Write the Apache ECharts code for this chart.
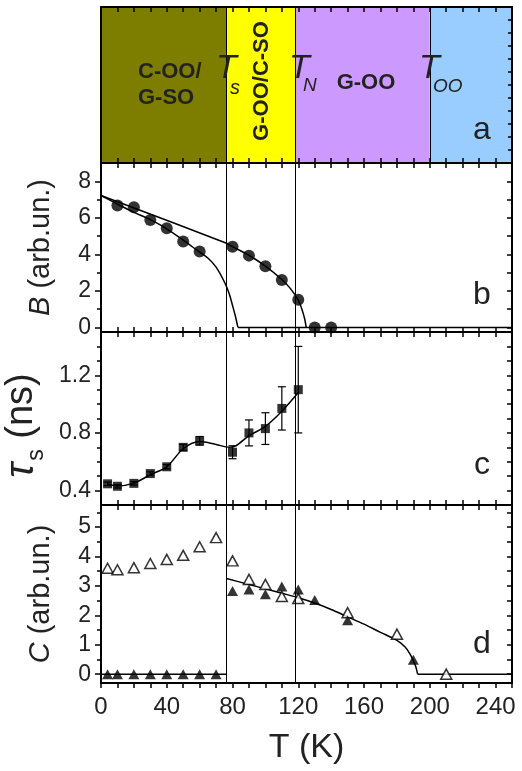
<!DOCTYPE html>
<html>
<head>
<meta charset="utf-8">
<script src="https://cdn.jsdelivr.net/npm/echarts@6/dist/echarts.min.js"></script>
<style>
html, body { margin: 0; padding: 0; background: #fff; }
#chart { width: 522px; height: 771px; }
</style>
</head>
<body>
<div id="chart"></div>
<script>
// transition temperatures (K)
const Ts = 76.3, TN = 118.4, TOO = 200;
const phaseBounds = [0, Ts, TN, TOO, 250];
const phaseColors = ['#7d7d00', '#ffff00', '#cc99ff', '#99ccff'];

// panel b: B (arb.un.)
const tB = [10, 20, 30, 40, 50, 60, 80, 90, 100, 110, 120, 130, 140];
const valB = [6.67, 6.58, 5.88, 5.43, 4.70, 4.15, 4.42, 3.93, 3.35, 2.60, 1.52, 0, 0];
const fitB1T = [0, 76, 80, 90, 100, 110, 115, 120, 122, 123.8, 124.8];
const fitB1 = [7.22, 4.62, 4.42, 3.95, 3.35, 2.62, 2.15, 1.5, 1.05, 0.5, 0];
const fitB2T = [0, 10, 20, 30, 40, 50, 60, 65, 70, 75, 78, 80, 81.8, 82.8, 83.3];
const fitB2 = [7.22, 6.75, 6.3, 5.9, 5.4, 4.78, 4.12, 3.8, 3.3, 2.5, 1.85, 1.2, 0.6, 0.2, 0];
const zeroBT = [83.3, 250];
const zeroB = [0, 0];

// panel c: tau_s (ns)
const tTau = [4, 10, 20, 30, 40, 50, 60, 80, 90, 100, 110, 120];
const tau = [0.447, 0.43, 0.45, 0.518, 0.565, 0.70, 0.745, 0.666, 0.80, 0.83, 0.97, 1.10];
const tauErr = [0.012, 0.012, 0.012, 0.012, 0.015, 0.02, 0.03, 0.045, 0.09, 0.11, 0.15, 0.30];
const fitCT = [4, 10, 20, 30, 40, 50, 60, 70, 78, 82, 90, 100, 110, 120];
const fitC = [0.445, 0.432, 0.452, 0.51, 0.565, 0.69, 0.74, 0.72, 0.70, 0.71, 0.78, 0.845, 0.95, 1.08];

// panel d: C (arb.un.)
const tCo = [4, 10, 20, 30, 40, 50, 60, 70, 80, 90, 100, 110, 120, 150, 180, 210];
const cOpen = [3.6, 3.55, 3.62, 3.76, 3.90, 4.04, 4.33, 4.64, 3.85, 3.22, 3.05, 2.64, 2.57, 2.09, 1.36, 0];
const tCf = [4, 10, 20, 30, 40, 50, 60, 70, 80, 90, 100, 110, 120, 130, 150, 190];
const cFilled = [0, 0, 0, 0, 0, 0, 0, 0, 2.83, 2.88, 2.72, 2.98, 2.88, 2.52, 1.83, 0.49];
const fitD0T = [0, Ts];
const fitD0 = [0, 0];
const fitDT = [Ts, 90, 100, 110, 120, 130, 140, 150, 160, 170, 180, 185, 188, 190, 191.5, 192.6];
const fitD = [3.25, 3.05, 2.9, 2.75, 2.6, 2.42, 2.2, 1.95, 1.7, 1.42, 1.15, 0.92, 0.68, 0.45, 0.25, 0];
const zeroDT = [192.6, 250];
const zeroD = [0, 0];

// y ticks
const ticksB = [0, 2, 4, 6, 8], minorB = [1, 3, 5, 7];
const ticksC = [0.4, 0.8, 1.2], minorC = [0.5, 0.6, 0.7, 0.9, 1.0, 1.1, 1.3, 1.4];
const ticksD = [0, 1, 2, 3, 4, 5], minorD = [0.5, 1.5, 2.5, 3.5, 4.5, 5.5];

const font = 'Liberation Sans';
const ink = '#222';

const pairs = (xs, ys) => xs.map((x, i) => [x, ys[i]]);

function xPair(gi, withLabels) {
    let common = {
        type: 'value', gridIndex: gi, min: 0, max: 250, interval: 10, z: 5,
        splitLine: { show: false },
        axisLine: { show: true, onZero: false, lineStyle: { color: '#000', width: 2 } }
    };
    let bottom = Object.assign({}, common, {
        position: 'bottom',
        axisTick: { show: true, inside: !withLabels, length: 5, lineStyle: { color: '#000', width: 1.5 } },
        axisLabel: withLabels ? {
            show: true, margin: 12, color: ink, fontSize: 24, fontFamily: font,
            formatter: v => (v % 40 === 0 && v <= 240) ? String(v) : ''
        } : { show: false }
    });
    if (withLabels) {
        Object.assign(bottom, {
            name: 'T (K)', nameLocation: 'middle', nameGap: 48,
            nameTextStyle: { fontSize: 34, color: ink, fontFamily: font }
        });
    }
    let top = Object.assign({}, common, {
        position: 'top',
        axisTick: { show: true, inside: true, length: 5, lineStyle: { color: '#000', width: 1.5 } },
        axisLabel: { show: false }
    });
    return [bottom, top];
}

function yTriple(gi, min, max, major, minor, name, nameGap, nameStyle) {
    let common = {
        type: 'value', gridIndex: gi, min: min, max: max, z: 5,
        splitLine: { show: false },
        axisLine: { show: true, onZero: false, lineStyle: { color: '#000', width: 2 } }
    };
    return [
        Object.assign({}, common, {
            position: 'left',
            axisTick: { show: true, inside: false, length: 6, customValues: major, lineStyle: { color: '#000', width: 1.5 } },
            axisLabel: { show: true, customValues: major, margin: 10, color: ink, fontSize: 23, fontFamily: font },
            name: name, nameLocation: 'middle', nameGap: nameGap, nameTextStyle: nameStyle
        }),
        Object.assign({}, common, {
            position: 'left',
            axisTick: { show: true, inside: false, length: 4, customValues: minor, lineStyle: { color: '#000', width: 1.5 } },
            axisLabel: { show: false }
        }),
        Object.assign({}, common, {
            position: 'right',
            axisTick: { show: true, inside: true, length: 5, customValues: major.concat(minor), lineStyle: { color: '#000', width: 1.5 } },
            axisLabel: { show: false }
        })
    ];
}

let yA = [
    { type: 'value', gridIndex: 0, min: 0, max: 12, interval: 1, z: 5, position: 'left',
      splitLine: { show: false }, axisLabel: { show: false }, axisTick: { show: false },
      axisLine: { show: true, onZero: false, lineStyle: { color: '#000', width: 2 } } },
    { type: 'value', gridIndex: 0, min: 0, max: 12, interval: 1, z: 5, position: 'right',
      splitLine: { show: false }, axisLabel: { show: false },
      axisTick: { show: true, inside: true, length: 4, lineStyle: { color: '#000', width: 1.5 } },
      axisLine: { show: true, onZero: false, lineStyle: { color: '#000', width: 2 } } },
    { type: 'value', gridIndex: 0, min: 0, max: 12, show: false }
];

let nameStyleArb = {
    fontSize: 29, color: ink, fontFamily: font,
    rich: { i: { fontSize: 29, fontStyle: 'italic', color: ink, fontFamily: font } }
};
let nameStyleTau = {
    fontSize: 38, color: ink, fontFamily: font, padding: [0, 14, 0, 0],
    rich: {
        t: { fontSize: 40, fontStyle: 'italic', lineHeight: 46, verticalAlign: 'top', color: ink, fontFamily: font },
        s: { fontSize: 23, lineHeight: 23, padding: [44, 0, 0, 2], verticalAlign: 'bottom', color: ink, fontFamily: font },
        n: { fontSize: 38, lineHeight: 46, verticalAlign: 'top', color: ink, fontFamily: font }
    }
};

let vLines = (xs) => ({
    silent: true, symbol: 'none', animation: false,
    label: { show: false },
    lineStyle: { color: '#000', width: 1, type: 'solid' },
    data: xs.map(x => ({ xAxis: x }))
});

let lineStyle = { color: '#000', width: 1.5 };

function fitLine(xi, yi, data, smooth) {
    return {
        type: 'line', xAxisIndex: xi, yAxisIndex: yi, data: data,
        smooth: smooth, showSymbol: false, symbol: 'none', silent: true,
        lineStyle: lineStyle, z: 2
    };
}

let dom = document.getElementById('chart');
let myChart = echarts.init(dom, null, { renderer: 'canvas' });

let gridBase = { left: 101, width: 411, outerBoundsMode: 'none', containLabel: false };

let option = {
    animation: false,
    grid: [
        Object.assign({ top: 7, height: 156 }, gridBase),
        Object.assign({ top: 163, height: 169 }, gridBase),
        Object.assign({ top: 332, height: 173 }, gridBase),
        Object.assign({ top: 505, height: 178 }, gridBase)
    ],
    xAxis: [].concat(xPair(0, false), xPair(1, false), xPair(2, false), xPair(3, true)),
    yAxis: [].concat(
        yA,
        yTriple(1, -0.25, 9, ticksB, minorB, '{i|B} (arb.un.)', 46, nameStyleArb),
        yTriple(2, 0.3, 1.5, ticksC, minorC, '{t|τ}{s|s}{n| (ns)}', 40, nameStyleTau),
        yTriple(3, -0.3, 5.75, ticksD, minorD, '{i|C} (arb.un.)', 46, nameStyleArb)
    ),
    series: [
        // panel a: phase regions
        {
            type: 'scatter', xAxisIndex: 0, yAxisIndex: 0, data: [], symbolSize: 0, silent: true,
            markArea: {
                silent: true,
                itemStyle: { opacity: 1 },
                data: phaseColors.map((c, i) => [
                    { xAxis: phaseBounds[i], itemStyle: { color: c, opacity: 1 } },
                    { xAxis: phaseBounds[i + 1] }
                ])
            },
            markLine: vLines([Ts, TN, TOO])
        },
        // panel b
        Object.assign(fitLine(2, 3, pairs(fitB1T, fitB1), 0.3), { markLine: vLines([Ts, TN]) }),
        fitLine(2, 3, pairs(fitB2T, fitB2), 0.3),
        fitLine(2, 3, pairs(zeroBT, zeroB), false),
        {
            type: 'scatter', xAxisIndex: 2, yAxisIndex: 3, data: pairs(tB, valB),
            symbol: 'circle', symbolSize: 12, itemStyle: { color: '#000' }, z: 4, silent: true
        },
        // panel c
        Object.assign(fitLine(4, 6, pairs(fitCT, fitC), 0.3), { markLine: vLines([Ts, TN]) }),
        {
            type: 'custom', xAxisIndex: 4, yAxisIndex: 6, silent: true, z: 3,
            data: tTau.map((t, i) => [t, tau[i], tauErr[i]]),
            renderItem: function (params, api) {
                let x = api.value(0), y = api.value(1), e = api.value(2);
                let hi = api.coord([x, y + e]);
                let lo = api.coord([x, y - e]);
                let w = 4;
                let st = { stroke: '#000', lineWidth: 1.2 };
                return {
                    type: 'group',
                    children: [
                        { type: 'line', shape: { x1: hi[0], y1: hi[1], x2: lo[0], y2: lo[1] }, style: st },
                        { type: 'line', shape: { x1: hi[0] - w, y1: hi[1], x2: hi[0] + w, y2: hi[1] }, style: st },
                        { type: 'line', shape: { x1: lo[0] - w, y1: lo[1], x2: lo[0] + w, y2: lo[1] }, style: st }
                    ]
                };
            }
        },
        {
            type: 'scatter', xAxisIndex: 4, yAxisIndex: 6, data: pairs(tTau, tau),
            symbol: 'rect', symbolSize: 9, itemStyle: { color: '#000' }, z: 4, silent: true
        },
        // panel d
        Object.assign(fitLine(6, 9, pairs(fitD0T, fitD0), false), { markLine: vLines([Ts, TN]) }),
        fitLine(6, 9, pairs(fitDT, fitD), 0.3),
        fitLine(6, 9, pairs(zeroDT, zeroD), false),
        {
            type: 'scatter', xAxisIndex: 6, yAxisIndex: 9, data: pairs(tCo, cOpen),
            symbol: 'triangle', symbolSize: [11, 10],
            itemStyle: { color: '#fff', borderColor: '#000', borderWidth: 1.5 }, z: 4, silent: true
        },
        {
            type: 'scatter', xAxisIndex: 6, yAxisIndex: 9, data: pairs(tCf, cFilled),
            symbol: 'triangle', symbolSize: [11, 10], itemStyle: { color: '#000' }, z: 5, silent: true
        }
    ],
    graphic: [
        { type: 'text', x: 138, y: 85, z: 20, style: { text: 'C-OO/\nG-SO', font: 'bold 22px "Liberation Sans"', lineHeight: 26, fill: ink, textAlign: 'left', textVerticalAlign: 'middle' } },
        { type: 'text', x: 216, y: 69, z: 20, style: { text: 'T', font: 'italic 34px "Liberation Sans"', fill: ink, textAlign: 'left', textVerticalAlign: 'middle' } },
        { type: 'text', x: 230, y: 88, z: 20, style: { text: 's', font: 'italic 20px "Liberation Sans"', fill: ink, textAlign: 'left', textVerticalAlign: 'middle' } },
        { type: 'text', x: 262, y: 81, z: 20, rotation: Math.PI / 2, style: { text: 'G-OO/C-SO', font: 'bold 22px "Liberation Sans"', fill: ink, textAlign: 'center', textVerticalAlign: 'middle' } },
        { type: 'text', x: 289, y: 69, z: 20, style: { text: 'T', font: 'italic 34px "Liberation Sans"', fill: ink, textAlign: 'left', textVerticalAlign: 'middle' } },
        { type: 'text', x: 303, y: 86, z: 20, style: { text: 'N', font: 'italic 19px "Liberation Sans"', fill: ink, textAlign: 'left', textVerticalAlign: 'middle' } },
        { type: 'text', x: 366, y: 83, z: 20, style: { text: 'G-OO', font: 'bold 22px "Liberation Sans"', fill: ink, textAlign: 'center', textVerticalAlign: 'middle' } },
        { type: 'text', x: 419, y: 69, z: 20, style: { text: 'T', font: 'italic 34px "Liberation Sans"', fill: ink, textAlign: 'left', textVerticalAlign: 'middle' } },
        { type: 'text', x: 433, y: 87, z: 20, style: { text: 'OO', font: 'italic 19px "Liberation Sans"', fill: ink, textAlign: 'left', textVerticalAlign: 'middle' } },
        { type: 'text', x: 482, y: 130, z: 20, style: { text: 'a', font: '32px "Liberation Sans"', fill: ink, textAlign: 'center', textVerticalAlign: 'middle' } },
        { type: 'text', x: 482, y: 295, z: 20, style: { text: 'b', font: '32px "Liberation Sans"', fill: ink, textAlign: 'center', textVerticalAlign: 'middle' } },
        { type: 'text', x: 482, y: 465, z: 20, style: { text: 'c', font: '32px "Liberation Sans"', fill: ink, textAlign: 'center', textVerticalAlign: 'middle' } },
        { type: 'text', x: 482, y: 644, z: 20, style: { text: 'd', font: '32px "Liberation Sans"', fill: ink, textAlign: 'center', textVerticalAlign: 'middle' } }
    ]
};

if (option && typeof option === 'object') {
    myChart.setOption(option);
}
</script>
</body>
</html>
